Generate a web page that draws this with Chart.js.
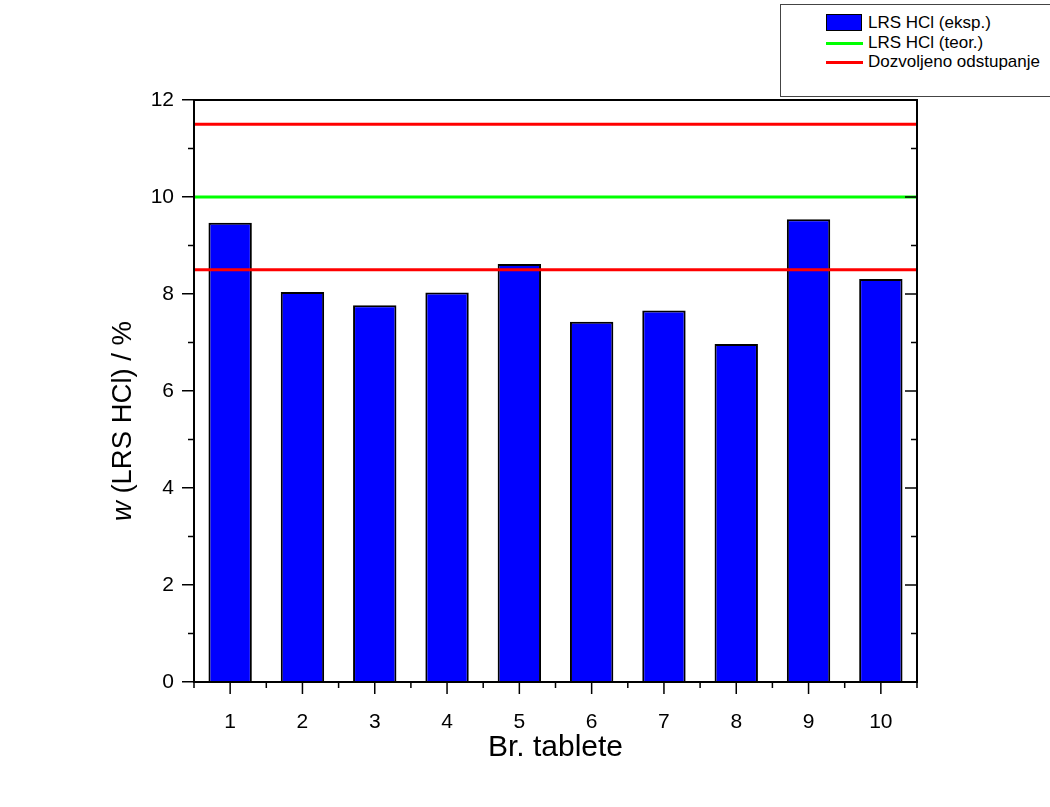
<!DOCTYPE html>
<html>
<head>
<meta charset="utf-8">
<script src="https://cdn.jsdelivr.net/npm/chart.js@4/dist/chart.umd.min.js"></script>
<style>
  html, body { margin:0; padding:0; background:#fff; overflow:hidden; }
  #wrap { position:relative; width:1050px; height:807px; }
  canvas { position:absolute; left:0; top:0; }
  #legend { position:absolute; left:780px; top:4px; width:300px; height:91px; border:1px solid #444; background:#fff;
            font-family:"Liberation Sans", Arial, sans-serif; font-size:17px; color:#000; }
  .item { position:absolute; left:45px; height:20px; line-height:20px; }
  .sw { position:absolute; left:0; }
  .txt { position:absolute; left:42px; white-space:nowrap; top:0; }
</style>
</head>
<body>
<div id="wrap">
  <canvas id="c" width="1050" height="807"></canvas>
  <div id="legend"></div>
</div>
<script>
const categories = ['1','2','3','4','5','6','7','8','9','10'];
const measured = [9.47, 8.04, 7.77, 8.03, 8.62, 7.43, 7.66, 6.97, 9.54, 8.31];
const theoretical = 10;
const lowerLimit = 8.5;
const upperLimit = 11.5;
const yTicks = [0, 2, 4, 6, 8, 10, 12];

const FONT = '"Liberation Sans", Arial, sans-serif';
const ctx = document.getElementById('c').getContext('2d');
const xMin = 0.5, xMax = categories.length + 0.5;
const barPoints = measured.map((v, i) => ({ x: i + 1, y: v }));
const hLine = v => [{ x: xMin, y: v }, { x: xMax, y: v }];

const framePlugin = {
  id: 'frame',
  afterDatasetsDraw(chart) {
    const c = chart.ctx, a = chart.chartArea;
    const xs = chart.scales.x, ys = chart.scales.y;
    c.save();
    c.strokeStyle = '#000';
    c.lineWidth = 2;
    c.strokeRect(a.left, a.top, a.right - a.left, a.bottom - a.top);
    c.lineWidth = 1.5;
    c.beginPath();
    for (let v = 0; v <= 12; v += 1) {
      const y = ys.getPixelForValue(v);
      const major = v % 2 === 0;
      if (!major) { c.moveTo(a.left, y); c.lineTo(a.left - 6, y); }
      c.moveTo(a.right, y); c.lineTo(a.right - (major ? 12 : 6), y);
    }
    for (let i = 1; i <= categories.length; i++) {
      const x = xs.getPixelForValue(i);
      c.moveTo(x, a.bottom); c.lineTo(x, a.bottom + 12);
    }
    for (let i = 0; i <= categories.length; i++) {
      const x = xs.getPixelForValue(i + 0.5);
      c.moveTo(x, a.bottom); c.lineTo(x, a.bottom + 6);
    }
    c.stroke();
    c.fillStyle = '#000';
    c.textAlign = 'center';
    c.textBaseline = 'middle';
    c.font = '30px ' + FONT;
    c.fillText('Br. tablete', (a.left + a.right) / 2, 748);
    c.translate(123, 421);
    c.rotate(-Math.PI / 2);
    const p1 = 'w', p2 = ' (LRS HCl) / %';
    const fs = 27.5;
    c.font = 'italic ' + fs + 'px ' + FONT;
    const w1 = c.measureText(p1).width;
    c.font = fs + 'px ' + FONT;
    const w2 = c.measureText(p2).width;
    const start = -(w1 + w2) / 2;
    c.textAlign = 'left';
    c.font = 'italic ' + fs + 'px ' + FONT;
    c.fillText(p1, start, 0);
    c.font = fs + 'px ' + FONT;
    c.fillText(p2, start + w1, 0);
    c.restore();
  }
};

const chart = new Chart(ctx, {
  type: 'bar',
  data: {
    datasets: [
      { type: 'bar', label: 'LRS HCl (eksp.)', data: barPoints, backgroundColor: '#0000ff',
        borderColor: '#000', borderWidth: 2, barPercentage: 0.6, categoryPercentage: 1.0, grouped: false, order: 2 },
      { type: 'line', label: 'LRS HCl (teor.)', data: hLine(theoretical),
        borderColor: '#00ff00', borderWidth: 3, pointRadius: 0, order: 1 },
      { type: 'line', label: 'Dozvoljeno odstupanje', data: hLine(lowerLimit),
        borderColor: '#ff0000', borderWidth: 3, pointRadius: 0, order: 1 },
      { type: 'line', label: 'Dozvoljeno odstupanje (gornje)', data: hLine(upperLimit),
        borderColor: '#ff0000', borderWidth: 3, pointRadius: 0, order: 1 }
    ]
  },
  options: {
    responsive: false,
    animation: false,
    layout: { padding: { top: 100, right: 133, left: 0, bottom: 0 } },
    plugins: { legend: { display: false }, tooltip: { enabled: false } },
    scales: {
      x: {
        type: 'linear', offset: false, min: xMin, max: xMax,
        grid: { display: false, offset: false },
        border: { display: false },
        afterBuildTicks(s) { s.ticks = categories.map((c, i) => ({ value: i + 1 })); },
        ticks: { autoSkip: false, maxRotation: 0, padding: 20, color: '#000', font: { family: FONT, size: 21 },
                 callback: (v, i) => categories[i] },
        afterFit(s) { s.height = 125; }
      },
      y: {
        min: 0, max: 12,
        afterBuildTicks(s) { s.ticks = yTicks.map(v => ({ value: v })); },
        grid: { drawOnChartArea: false, drawTicks: true, tickLength: 12, color: '#000', lineWidth: 1.5 },
        border: { display: false },
        ticks: { padding: 8, color: '#000', font: { family: FONT, size: 21 } },
        afterFit(s) { s.width = 194; }
      }
    }
  },
  plugins: [framePlugin]
});

const legendItems = [
  { label: chart.data.datasets[0].label, kind: 'box', color: '#0000ff' },
  { label: chart.data.datasets[1].label, kind: 'line', color: '#00ff00' },
  { label: chart.data.datasets[2].label, kind: 'line', color: '#ff0000' }
];
const lg = document.getElementById('legend');
legendItems.forEach((it, i) => {
  const d = document.createElement('div');
  d.className = 'item';
  d.style.top = (8 + i * 19.5) + 'px';
  const sw = document.createElement('div');
  sw.className = 'sw';
  if (it.kind === 'box') {
    sw.style.cssText = 'left:0;top:1px;width:34px;height:15px;border:1.5px solid #000;background:' + it.color;
  } else {
    sw.style.cssText = 'left:0;top:9px;width:37px;height:3px;background:' + it.color;
  }
  const t = document.createElement('div');
  t.className = 'txt';
  t.textContent = it.label;
  d.appendChild(sw); d.appendChild(t);
  lg.appendChild(d);
});
</script>
</body>
</html>
